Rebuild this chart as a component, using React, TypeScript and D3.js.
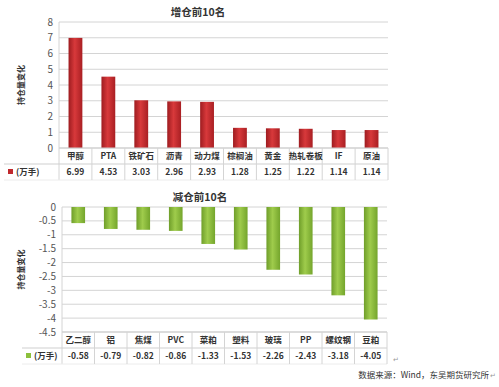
import React from 'react';
import * as d3 from 'd3';

const topCats = ['甲醇', 'PTA', '铁矿石', '沥青', '动力煤', '棕榈油', '黄金', '热轧卷板', 'IF', '原油'];
const topVals = [6.99, 4.53, 3.03, 2.96, 2.93, 1.28, 1.25, 1.22, 1.14, 1.14];
const topTicks = [0, 1, 2, 3, 4, 5, 6, 7, 8];

const botCats = ['乙二醇', '铝', '焦煤', 'PVC', '菜粕', '塑料', '玻璃', 'PP', '螺纹钢', '豆粕'];
const botVals = [-0.58, -0.79, -0.82, -0.86, -1.33, -1.53, -2.26, -2.43, -3.18, -4.05];
const botTicks = [0, -0.5, -1, -1.5, -2, -2.5, -3, -3.5, -4, -4.5];

const FONT = '"Noto Sans CJK SC", "Noto Sans", sans-serif';

interface PanelProps {
    title: string;
    cats: string[];
    vals: number[];
    ticks: number[];
    domain: [number, number];
    top: number;
    bottom: number;
    left: number;
    right: number;
    legendLeft: number;
    fill: string;
    marker: string;
    titleX: number;
    titleY: number;
}

const Panel: React.FC<PanelProps> = (p) => {
    const y = d3.scaleLinear().domain(p.domain).range([p.bottom, p.top]);
    const x = d3.scaleBand<string>().domain(p.cats).range([p.left, p.right]).paddingInner(0.58).paddingOuter(0.29);
    const step = x.step();
    const rowH = 16;
    const row1 = p.bottom;
    const row2 = p.bottom + rowH;
    const row3 = p.bottom + rowH * 2;
    return (
        <g>
            <text x={p.titleX} y={p.titleY} textAnchor="middle" fontSize={10.5} fontWeight="bold" fill="#333" fontFamily={FONT}>
                {p.title}
            </text>
            {p.ticks.map((t) => (
                <g key={t}>
                    <line x1={p.left} x2={p.right} y1={y(t)} y2={y(t)} stroke="#d4d4d4" strokeWidth={1} />
                    <text x={p.left - 6} y={y(t) + 3.5} textAnchor="end" fontSize={10} fill="#555" fontFamily={FONT}>
                        {String(t)}
                    </text>
                </g>
            ))}
            <line x1={p.left} x2={p.left} y1={p.top} y2={row3} stroke="#d4d4d4" />
            <text
                transform={`translate(${24},${(p.top + p.bottom) / 2}) rotate(-90)`}
                textAnchor="middle"
                fontSize={8}
                fontWeight="bold"
                fill="#333"
                fontFamily={FONT}
            >
                持仓量变化
            </text>
            {p.cats.map((c, i) => {
                const v = p.vals[i];
                const y0 = y(Math.max(0, v));
                const y1 = y(Math.min(0, v));
                return <rect key={c} x={x(c)!} y={y0} width={x.bandwidth()} height={y1 - y0} fill={p.fill} />;
            })}
            {/* data table */}
            <line x1={p.left} x2={p.right} y1={row1} y2={row1} stroke="#cfcfcf" />
            <line x1={p.legendLeft} x2={p.right} y1={row2} y2={row2} stroke="#cfcfcf" />
            <line x1={p.legendLeft} x2={p.right} y1={row3} y2={row3} stroke="#ececec" />
            {p.cats.map((c, i) => (
                <line key={c} x1={p.left + step * (i + 1)} x2={p.left + step * (i + 1)} y1={row1} y2={row3} stroke="#d4d4d4" />
            ))}
            <rect x={p.legendLeft + 4} y={row2 + 5} width={5} height={5} fill={p.marker} />
            <text x={p.legendLeft + 12} y={row2 + 11} fontSize={8.5} fontWeight="bold" fill="#333" fontFamily={FONT}>
                (万手)
            </text>
            {p.cats.map((c, i) => (
                <g key={c}>
                    <text x={p.left + step * (i + 0.5)} y={row1 + 11} textAnchor="middle" fontSize={8.5} fontWeight="bold" fill="#333" fontFamily={FONT}>
                        {c}
                    </text>
                    <text x={p.left + step * (i + 0.5)} y={row2 + 11} textAnchor="middle" fontSize={8.5} fontWeight="bold" fill="#333" fontFamily={FONT}>
                        {p.vals[i].toFixed(2)}
                    </text>
                </g>
            ))}
        </g>
    );
};

export default function App() {
    return (
        <svg width={499} height={387} style={{ position: 'absolute', left: 0, top: 0, background: '#fff' }}>
            <defs>
                <linearGradient id="redG" x1="0" x2="1" y1="0" y2="0">
                    <stop offset="0" stopColor="#9e1c20" />
                    <stop offset="0.45" stopColor="#d8393b" />
                    <stop offset="1" stopColor="#a91f23" />
                </linearGradient>
                <linearGradient id="greenG" x1="0" x2="1" y1="0" y2="0">
                    <stop offset="0" stopColor="#6f9e2a" />
                    <stop offset="0.45" stopColor="#9fcc4c" />
                    <stop offset="1" stopColor="#74a52c" />
                </linearGradient>
            </defs>
            <rect width={499} height={387} fill="#fff" />
            <Panel
                title="增仓前10名"
                cats={topCats}
                vals={topVals}
                ticks={topTicks}
                domain={[0, 8]}
                top={22}
                bottom={148}
                left={59}
                right={388}
                legendLeft={4}
                fill="url(#redG)"
                marker="#c0282d"
                titleX={198}
                titleY={16}
            />
            <Panel
                title="减仓前10名"
                cats={botCats}
                vals={botVals}
                ticks={botTicks}
                domain={[-4.5, 0]}
                top={207}
                bottom={332}
                left={62}
                right={387}
                legendLeft={22}
                fill="url(#greenG)"
                marker="#8cc03c"
                titleX={200}
                titleY={201}
            />
            <text x={393} y={362} fontSize={7} fill="#999" fontFamily={FONT}>↵</text>
            <text x={489} y={378} textAnchor="end" fontSize={8.5} fill="#333" fontFamily={FONT}>
                数据来源：Wind，东吴期货研究所
            </text>
            <text x={490} y={378} fontSize={7} fill="#999" fontFamily={FONT}>↵</text>
        </svg>
    );
}
